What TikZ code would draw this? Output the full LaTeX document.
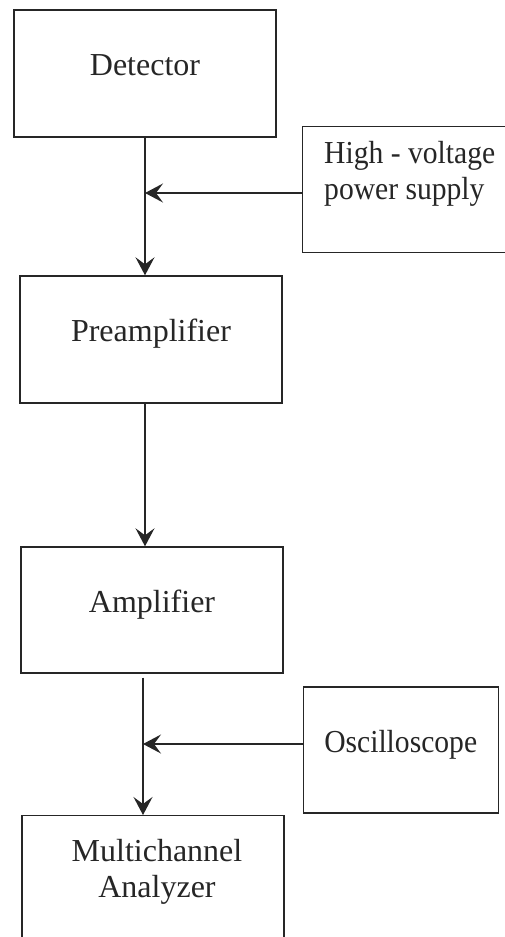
\documentclass[tikz,border=0pt]{standalone}
\usepackage{fontspec}
\setmainfont{Liberation Serif}
\usetikzlibrary{arrows.meta}
\definecolor{ink}{HTML}{262626}
\newcommand{\narrowtxt}[1]{\scalebox{0.925}[1]{#1}}
\begin{document}
\begin{tikzpicture}[x=1pt,y=-1pt,
  box/.style={draw=ink, line width=1.4pt, rectangle, inner sep=0pt,
    text height=0.7em, text depth=0.25em, text=ink},
  txt/.style={inner sep=0pt, text=ink, align=left},
  conn/.style={draw=ink, line width=1.4pt,
    -{Stealth[length=18pt,width=19pt,inset=7pt]}},
  every node/.style={font=\fontsize{32}{36}\selectfont}]
\useasboundingbox (0,0) rectangle (505,937);
\fill[white] (0,0) rectangle (505,937);
% boxes
\node[box, minimum width=262, minimum height=127] (det) at (145,73.5) {Detector};
\node[box, minimum width=240, minimum height=126, anchor=north west] (hv) at (302,125.5) {};
\node[txt, anchor=north west] (hvtext) at (324,141) {\narrowtxt{High - voltage}\\\narrowtxt{power supply}};
\node[box, minimum width=262, minimum height=127] (pre) at (151,339.5) {Preamplifier};
\node[box, minimum width=262, minimum height=126] (amp) at (152,610) {Amplifier};
\node[box, minimum width=195, minimum height=126] (osc) at (400.7,750) {\narrowtxt{Oscilloscope}};
\node[box, minimum width=262, minimum height=160, anchor=north] (mca) at (153,815) {};
\node[txt, align=center, anchor=north] (mcatext) at (157,839) {Multichannel\\Analyzer};
% junction coordinates
\coordinate (j1) at (145,193);
\coordinate (j2) at (143,744);
% connectors
\draw[conn] (det.south -| j1) -- (j1 |- pre.north);
\draw[conn] (hv.west |- j1) -- (j1);
\draw[conn] (pre.south -| j1) -- (j1 |- amp.north);
\draw[conn, shorten <=4pt] (amp.south -| j2) -- (j2 |- mca.north);
\draw[conn] (osc.west |- j2) -- (j2);
\end{tikzpicture}
\end{document}
